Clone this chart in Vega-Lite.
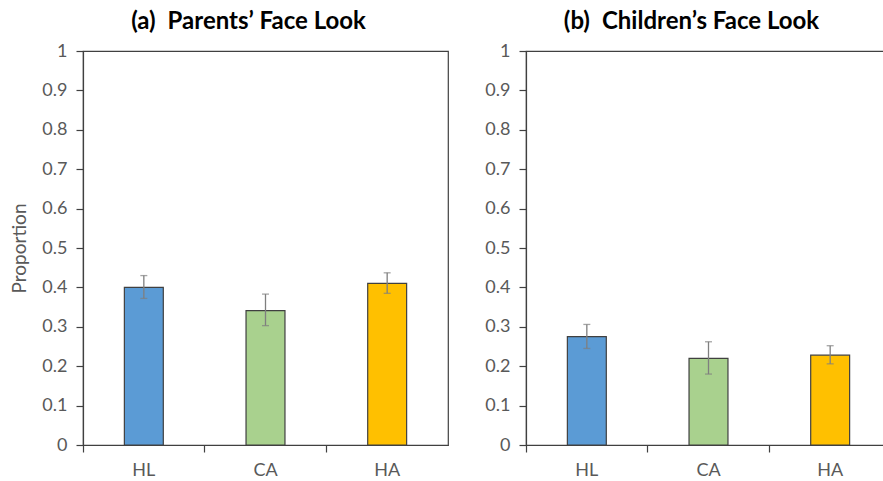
{
  "$schema": "https://vega.github.io/schema/vega-lite/v6.json",
  "background": "white",
  "padding": {"left": 10, "top": 9, "right": 0, "bottom": 0},
  "spacing": 35,
  "config": {
    "font": "Lato",
    "view": {"stroke": "#404040", "strokeWidth": 1.2},
    "axis": {
      "domainColor": "#404040",
      "domainWidth": 1.2,
      "tickColor": "#404040",
      "tickWidth": 1.2,
      "labelColor": "#595959",
      "labelFont": "Lato",
      "labelFontSize": 18,
      "titleColor": "#595959",
      "titleFont": "Lato",
      "titleFontSize": 19,
      "titleFontWeight": "normal",
      "grid": false
    },
    "title": {"font": "Lato", "fontSize": 24, "fontWeight": "bold", "color": "#000000", "offset": 8, "dx": -17}
  },
  "data": {
    "values": [
      {"panel": "a", "group": "HL", "value": 0.400, "lo": 0.372, "hi": 0.430},
      {"panel": "a", "group": "CA", "value": 0.341, "lo": 0.303, "hi": 0.383},
      {"panel": "a", "group": "HA", "value": 0.410, "lo": 0.385, "hi": 0.437},
      {"panel": "b", "group": "HL", "value": 0.275, "lo": 0.245, "hi": 0.306},
      {"panel": "b", "group": "CA", "value": 0.220, "lo": 0.180, "hi": 0.262},
      {"panel": "b", "group": "HA", "value": 0.228, "lo": 0.206, "hi": 0.252}
    ]
  },
  "hconcat": [
    {
      "title": "(a)\u2002Parents’ Face Look",
      "width": 365,
      "height": 394,
      "transform": [{"filter": "datum.panel === 'a'"}],
      "encoding": {
        "x": {
          "field": "group", "type": "nominal", "sort": ["HL", "CA", "HA"],
          "scale": {"paddingInner": 0, "paddingOuter": 0},
          "axis": {"title": null, "labelAngle": 0, "bandPosition": 0, "tickSize": 7, "labelPadding": 9}
        }
      },
      "layer": [
        {
          "mark": {"type": "bar", "width": {"band": 0.32}, "stroke": "#404040", "strokeWidth": 1.2},
          "encoding": {
            "y": {
              "field": "value", "type": "quantitative",
              "scale": {"domain": [0, 1]},
              "axis": {"title": "Proportion", "values": [0, 0.1, 0.2, 0.3, 0.4, 0.5, 0.6, 0.7, 0.8, 0.9, 1], "format": ".1~f", "tickSize": 7, "labelPadding": 9, "titlePadding": 12, "labelOverlap": false}
            },
            "color": {
              "field": "group", "type": "nominal", "legend": null,
              "scale": {"domain": ["HL", "CA", "HA"], "range": ["#5B9BD5", "#A9D18E", "#FFC000"]}
            }
          }
        },
        {
          "mark": {"type": "rule", "color": "#7F7F7F", "strokeWidth": 1.3},
          "encoding": {
            "y": {"field": "lo", "type": "quantitative", "axis": {"title": "Proportion", "values": [0, 0.1, 0.2, 0.3, 0.4, 0.5, 0.6, 0.7, 0.8, 0.9, 1], "format": ".1~f", "tickSize": 7, "labelPadding": 9, "titlePadding": 12, "labelOverlap": false}},
            "y2": {"field": "hi"}
          }
        },
        {
          "mark": {"type": "tick", "color": "#7F7F7F", "size": 7, "thickness": 1.3},
          "encoding": {"y": {"field": "lo", "type": "quantitative", "axis": {"title": "Proportion", "values": [0, 0.1, 0.2, 0.3, 0.4, 0.5, 0.6, 0.7, 0.8, 0.9, 1], "format": ".1~f", "tickSize": 7, "labelPadding": 9, "titlePadding": 12, "labelOverlap": false}}}
        },
        {
          "mark": {"type": "tick", "color": "#7F7F7F", "size": 7, "thickness": 1.3},
          "encoding": {"y": {"field": "hi", "type": "quantitative", "axis": {"title": "Proportion", "values": [0, 0.1, 0.2, 0.3, 0.4, 0.5, 0.6, 0.7, 0.8, 0.9, 1], "format": ".1~f", "tickSize": 7, "labelPadding": 9, "titlePadding": 12, "labelOverlap": false}}}
        }
      ]
    },
    {
      "title": "(b)\u2002Children’s Face Look",
      "width": 365,
      "height": 394,
      "transform": [{"filter": "datum.panel === 'b'"}],
      "encoding": {
        "x": {
          "field": "group", "type": "nominal", "sort": ["HL", "CA", "HA"],
          "scale": {"paddingInner": 0, "paddingOuter": 0},
          "axis": {"title": null, "labelAngle": 0, "bandPosition": 0, "tickSize": 7, "labelPadding": 9}
        }
      },
      "layer": [
        {
          "mark": {"type": "bar", "width": {"band": 0.32}, "stroke": "#404040", "strokeWidth": 1.2},
          "encoding": {
            "y": {
              "field": "value", "type": "quantitative",
              "scale": {"domain": [0, 1]},
              "axis": {"title": null, "values": [0, 0.1, 0.2, 0.3, 0.4, 0.5, 0.6, 0.7, 0.8, 0.9, 1], "format": ".1~f", "tickSize": 7, "labelPadding": 9, "labelOverlap": false}
            },
            "color": {
              "field": "group", "type": "nominal", "legend": null,
              "scale": {"domain": ["HL", "CA", "HA"], "range": ["#5B9BD5", "#A9D18E", "#FFC000"]}
            }
          }
        },
        {
          "mark": {"type": "rule", "color": "#7F7F7F", "strokeWidth": 1.3},
          "encoding": {
            "y": {"field": "lo", "type": "quantitative", "axis": {"title": null, "values": [0, 0.1, 0.2, 0.3, 0.4, 0.5, 0.6, 0.7, 0.8, 0.9, 1], "format": ".1~f", "tickSize": 7, "labelPadding": 9, "labelOverlap": false}},
            "y2": {"field": "hi"}
          }
        },
        {
          "mark": {"type": "tick", "color": "#7F7F7F", "size": 7, "thickness": 1.3},
          "encoding": {"y": {"field": "lo", "type": "quantitative", "axis": {"title": null, "values": [0, 0.1, 0.2, 0.3, 0.4, 0.5, 0.6, 0.7, 0.8, 0.9, 1], "format": ".1~f", "tickSize": 7, "labelPadding": 9, "labelOverlap": false}}}
        },
        {
          "mark": {"type": "tick", "color": "#7F7F7F", "size": 7, "thickness": 1.3},
          "encoding": {"y": {"field": "hi", "type": "quantitative", "axis": {"title": null, "values": [0, 0.1, 0.2, 0.3, 0.4, 0.5, 0.6, 0.7, 0.8, 0.9, 1], "format": ".1~f", "tickSize": 7, "labelPadding": 9, "labelOverlap": false}}}
        }
      ]
    }
  ]
}
